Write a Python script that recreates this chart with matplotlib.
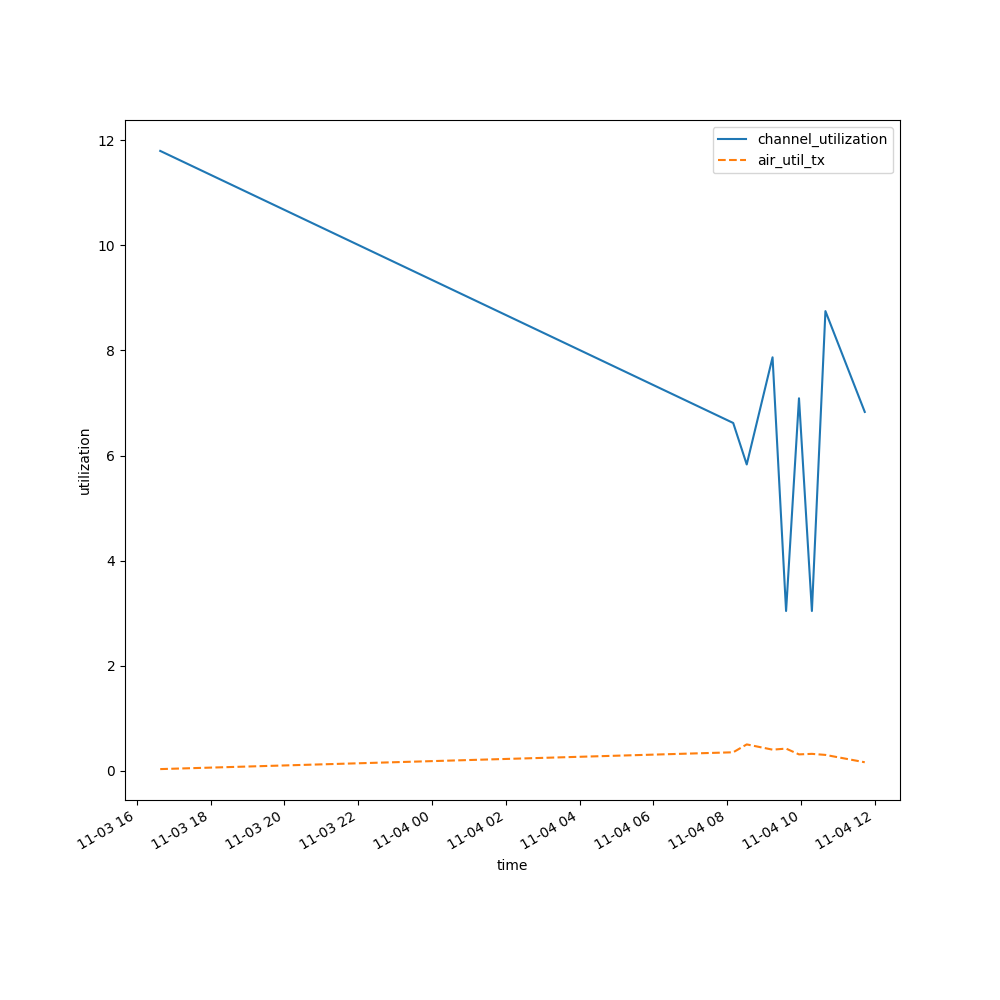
import numpy as np
import pandas as pd
import matplotlib
matplotlib.use("Agg")
import matplotlib.pyplot as plt

times = pd.to_datetime([
    "2023-11-03 16:38", "2023-11-04 08:10", "2023-11-04 08:32",
    "2023-11-04 09:14", "2023-11-04 09:36", "2023-11-04 09:57",
    "2023-11-04 10:18", "2023-11-04 10:40", "2023-11-04 11:44",
])
channel_utilization = [11.80, 6.62, 5.83, 7.87, 3.04, 7.09, 3.04, 8.75, 6.83]
air_util_tx = [0.03, 0.35, 0.50, 0.40, 0.42, 0.31, 0.32, 0.30, 0.16]


def main():
  fig, ax = plt.subplots(figsize=(10, 10), dpi=100)

  ax.plot(times, channel_utilization, label='channel_utilization')
  ax.plot(times, air_util_tx, linestyle='dashed', label='air_util_tx')

  ax.set_xlabel('time')
  ax.set_ylabel('utilization')
  ax.legend()
  fig.autofmt_xdate()

  plt.savefig('out.png')


if __name__ == "__main__":
  main()
